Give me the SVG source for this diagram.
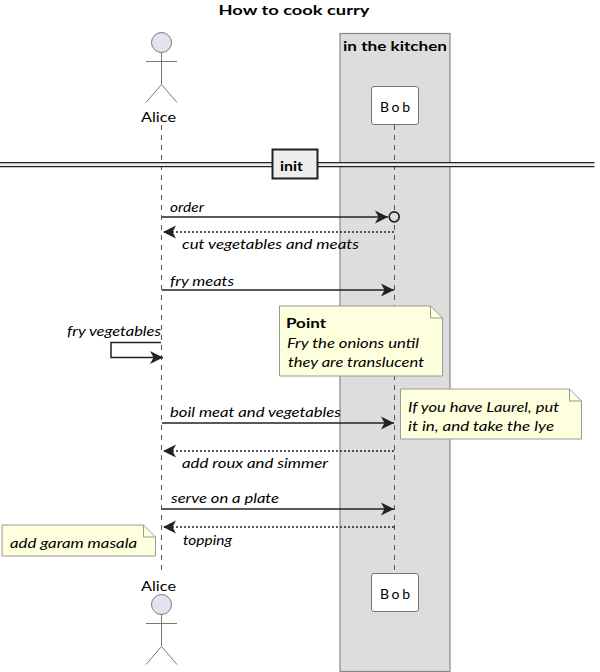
<svg xmlns="http://www.w3.org/2000/svg" width="600" height="672" viewBox="0 0 600 672">
<style>
text{font-family:"Lato","Open Sans",sans-serif;font-size:14px;fill:#000}
.i{font-style:italic}
.b{font-weight:700}
.life{stroke:#555;stroke-width:1;stroke-dasharray:5 5;fill:none}
.msg{stroke:#222;stroke-width:1.5;fill:none}
.ret{stroke:#222;stroke-width:1.5;stroke-dasharray:2 2;fill:none}
.actor{fill:#E2E2F0;stroke:#777;stroke-width:1}
.limb{stroke:#777;stroke-width:1;fill:none}
.pbox{fill:#fff;stroke:#777;stroke-width:1}
.note{fill:#FEFFDD;stroke:#999;stroke-width:1}
</style>
<defs>
<marker id="to" markerUnits="userSpaceOnUse" markerWidth="16" markerHeight="16" refX="13" refY="7" orient="auto"><path d="M0 0.5L13 7L0 13.5L3.5 7Z" fill="#222"/></marker>
</defs>
<text id="title" x="294" y="15" text-anchor="middle" class="b" textLength="151" lengthAdjust="spacingAndGlyphs">How to cook curry</text>
<g id="box-kitchen">
<rect x="340" y="33.5" width="110" height="638" fill="#DDDDDD" stroke="#888" stroke-width="1.2"/>
<text x="343" y="51" class="b" textLength="104" lengthAdjust="spacingAndGlyphs">in the kitchen</text>
</g>
<g id="lifelines">
<path class="life" d="M161.5 125V572"/>
<path class="life" d="M394.5 125V572"/>
</g>
<g id="divider">
<rect x="0" y="163" width="594.5" height="4" fill="#EEEEEE"/>
<path d="M0 162.7H594.5M0 166.7H594.5" stroke="#222" stroke-width="1.2" fill="none"/>
<rect x="272.5" y="149.5" width="45" height="29" fill="#EEEEEE" stroke="#222" stroke-width="2"/>
<text x="280" y="171" textLength="23" lengthAdjust="spacingAndGlyphs" class="b">init</text>
</g>
<g id="connectors">
<path class="msg" d="M162 217H388" marker-end="url(#to)"/>
<circle cx="394.2" cy="216.8" r="5" fill="#DDDDDD" stroke="#222" stroke-width="1.7"/>
<path class="ret" d="M394 232H163" marker-end="url(#to)"/>
<path class="msg" d="M162 290H394" marker-end="url(#to)"/>
<path class="msg" d="M161 342.5H111V357.5H163" marker-end="url(#to)"/>
<path class="msg" d="M162 423H394" marker-end="url(#to)"/>
<path class="ret" d="M394 451H163" marker-end="url(#to)"/>
<path class="msg" d="M162 509H394" marker-end="url(#to)"/>
<path class="ret" d="M394 527H163" marker-end="url(#to)"/>
<text class="i" x="170" y="212" textLength="34" lengthAdjust="spacingAndGlyphs">order</text>
<text class="i" x="182" y="249" textLength="177" lengthAdjust="spacingAndGlyphs">cut vegetables and meats</text>
<text class="i" x="170" y="286" textLength="64" lengthAdjust="spacingAndGlyphs">fry meats</text>
<text class="i" x="67" y="336" textLength="94" lengthAdjust="spacingAndGlyphs">fry vegetables</text>
<text class="i" x="170" y="417" textLength="171" lengthAdjust="spacingAndGlyphs">boil meat and vegetables</text>
<text class="i" x="182" y="468" textLength="146" lengthAdjust="spacingAndGlyphs">add roux and simmer</text>
<text class="i" x="171" y="503" textLength="108" lengthAdjust="spacingAndGlyphs">serve on a plate</text>
<text class="i" x="183" y="545" textLength="49" lengthAdjust="spacingAndGlyphs">topping</text>
</g>
<g id="alice-top">
<circle class="actor" cx="161.5" cy="42.5" r="10"/>
<path class="limb" d="M161.5 52.5V84.5M146 61.5H177M161.5 84.5L146 102.5M161.5 84.5L177 102.5"/>
<text x="141" y="122" textLength="35" lengthAdjust="spacingAndGlyphs">Alice</text>
</g>
<g id="bob-top">
<rect class="pbox" x="371.5" y="86.5" width="47" height="38" rx="2.5"/>
<text x="380" y="112" textLength="30" lengthAdjust="spacing">Bob</text>
</g>
<g id="note-point">
<path class="note" d="M279.5 306H430.5L442.5 318V376H279.5Z"/>
<path d="M430.5 306V318H442.5" fill="none" stroke="#999"/>
<text x="286" y="328" class="b" textLength="40" lengthAdjust="spacingAndGlyphs">Point</text>
<text class="i" x="287" y="348" textLength="132" lengthAdjust="spacingAndGlyphs">Fry the onions until</text>
<text class="i" x="288" y="367" textLength="136" lengthAdjust="spacingAndGlyphs">they are translucent</text>
</g>
<g id="note-laurel">
<path class="note" d="M400.5 389H569.5L581.5 401V439H400.5Z"/>
<path d="M569.5 389V401H581.5" fill="none" stroke="#999"/>
<text class="i" x="408" y="412" textLength="151" lengthAdjust="spacingAndGlyphs">If you have Laurel, put</text>
<text class="i" x="408" y="431" textLength="146" lengthAdjust="spacingAndGlyphs">it in, and take the lye</text>
</g>
<g id="note-garam">
<path class="note" d="M2 525H143.5L155.5 537V556H2Z"/>
<path d="M143.5 525V537H155.5" fill="none" stroke="#999"/>
<text class="i" x="10" y="548" textLength="127" lengthAdjust="spacingAndGlyphs">add garam masala</text>
</g>
<g id="alice-bottom">
<text x="141" y="591" textLength="35" lengthAdjust="spacingAndGlyphs">Alice</text>
<circle class="actor" cx="161.5" cy="604.5" r="10"/>
<path class="limb" d="M161.5 614.5V646.5M146 623.5H177M161.5 646.5L146 664.5M161.5 646.5L177 664.5"/>
</g>
<g id="bob-bottom">
<rect class="pbox" x="371.5" y="573.5" width="47" height="38" rx="2.5"/>
<text x="380" y="599" textLength="30" lengthAdjust="spacing">Bob</text>
</g>
</svg>
